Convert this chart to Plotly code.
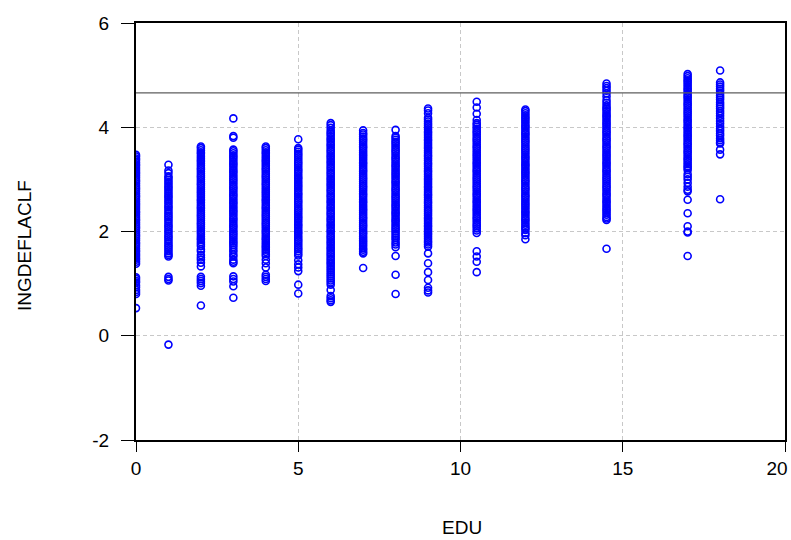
import plotly.graph_objects as go

# Education levels (x positions of the columns)
edu_levels = [0, 1, 2, 3, 4, 5, 6, 7, 8, 9, 10.5, 12, 14.5, 17, 18]

# INGDEFLACLF values read per education level (dense parts read as closely packed observations)
vals_0 = [3.47, 3.44, 3.40, 3.37, 3.33, 3.29, 3.26, 3.22, 3.18, 3.14, 3.11, 3.07, 3.03, 2.99, 2.96, 2.92,
          2.88, 2.84, 2.81, 2.77, 2.73, 2.69, 2.66, 2.62, 2.58, 2.54, 2.51, 2.47, 2.43, 2.39, 2.36, 2.32,
          2.28, 2.24, 2.21, 2.17, 2.13, 2.09, 2.06, 2.02, 1.98, 1.94, 1.91, 1.87, 1.83, 1.79, 1.76, 1.72,
          1.68, 1.64, 1.61, 1.57, 1.53, 1.49, 1.46, 1.42, 1.38, 1.12, 1.09, 1.05, 1.02, 0.97, 0.93, 0.88,
          0.84, 0.80, 0.53]
vals_1 = [3.28, 3.17, 3.12, 3.06, 3.03, 2.99, 2.95, 2.91, 2.87, 2.84, 2.80, 2.76, 2.72, 2.68, 2.65, 2.61,
          2.57, 2.53, 2.49, 2.46, 2.42, 2.38, 2.34, 2.30, 2.27, 2.23, 2.19, 2.15, 2.11, 2.08, 2.04, 2.00,
          1.96, 1.92, 1.89, 1.85, 1.81, 1.77, 1.73, 1.70, 1.66, 1.62, 1.58, 1.55, 1.52, 1.13, 1.09, 1.06,
          -0.17]
vals_2 = [3.63, 3.60, 3.56, 3.52, 3.49, 3.45, 3.41, 3.37, 3.34, 3.30, 3.26, 3.22, 3.19, 3.15, 3.11, 3.07,
          3.04, 3.00, 2.96, 2.92, 2.89, 2.85, 2.81, 2.77, 2.74, 2.70, 2.66, 2.62, 2.59, 2.55, 2.51, 2.47,
          2.44, 2.40, 2.36, 2.32, 2.29, 2.25, 2.21, 2.17, 2.14, 2.10, 2.06, 2.02, 1.99, 1.95, 1.91, 1.87,
          1.84, 1.80, 1.76, 1.72, 1.66, 1.62, 1.55, 1.50, 1.46, 1.40, 1.33, 1.13, 1.09, 1.05, 1.01, 0.96,
          0.58]
vals_3 = [4.17, 3.83, 3.80, 3.57, 3.54, 3.50, 3.46, 3.43, 3.39, 3.35, 3.31, 3.28, 3.24, 3.20, 3.16, 3.13,
          3.09, 3.05, 3.01, 2.98, 2.94, 2.90, 2.86, 2.83, 2.79, 2.75, 2.71, 2.68, 2.64, 2.60, 2.56, 2.53,
          2.49, 2.45, 2.41, 2.38, 2.34, 2.30, 2.26, 2.23, 2.19, 2.15, 2.11, 2.08, 2.04, 2.00, 1.96, 1.93,
          1.89, 1.85, 1.81, 1.78, 1.74, 1.70, 1.65, 1.61, 1.56, 1.52, 1.46, 1.42, 1.39, 1.14, 1.09, 1.04,
          0.95, 0.73]
vals_4 = [3.63, 3.60, 3.56, 3.52, 3.49, 3.45, 3.41, 3.37, 3.34, 3.30, 3.26, 3.22, 3.19, 3.15, 3.11, 3.07,
          3.04, 3.00, 2.96, 2.92, 2.89, 2.85, 2.81, 2.77, 2.74, 2.70, 2.66, 2.62, 2.59, 2.55, 2.51, 2.47,
          2.44, 2.40, 2.36, 2.32, 2.29, 2.25, 2.21, 2.17, 2.14, 2.10, 2.06, 2.02, 1.99, 1.95, 1.91, 1.87,
          1.84, 1.80, 1.76, 1.72, 1.69, 1.65, 1.61, 1.57, 1.53, 1.46, 1.39, 1.31, 1.17, 1.13, 1.09, 1.05]
vals_5 = [3.77, 3.60, 3.57, 3.53, 3.49, 3.46, 3.42, 3.38, 3.34, 3.31, 3.27, 3.23, 3.19, 3.16, 3.12, 3.08,
          3.04, 3.01, 2.97, 2.93, 2.89, 2.86, 2.82, 2.78, 2.74, 2.71, 2.67, 2.63, 2.59, 2.56, 2.52, 2.48,
          2.44, 2.41, 2.37, 2.33, 2.29, 2.26, 2.22, 2.18, 2.14, 2.11, 2.07, 2.03, 1.99, 1.96, 1.92, 1.88,
          1.84, 1.81, 1.77, 1.73, 1.69, 1.66, 1.62, 1.58, 1.54, 1.45, 1.37, 1.31, 1.24, 0.98, 0.81]
vals_6 = [4.08, 4.04, 3.99, 3.94, 3.90, 3.87, 3.83, 3.79, 3.76, 3.72, 3.68, 3.65, 3.61, 3.57, 3.54, 3.50,
          3.46, 3.43, 3.39, 3.35, 3.32, 3.28, 3.24, 3.21, 3.17, 3.13, 3.10, 3.06, 3.02, 2.99, 2.95, 2.91,
          2.88, 2.84, 2.80, 2.77, 2.73, 2.69, 2.66, 2.62, 2.58, 2.55, 2.51, 2.47, 2.44, 2.40, 2.36, 2.33,
          2.29, 2.25, 2.22, 2.18, 2.14, 2.11, 2.07, 2.03, 2.00, 1.96, 1.92, 1.89, 1.85, 1.81, 1.78, 1.74,
          1.70, 1.67, 1.63, 1.59, 1.56, 1.52, 1.48, 1.45, 1.41, 1.38, 1.34, 1.30, 1.26, 1.22, 1.18, 1.14,
          1.10, 1.06, 1.02, 0.98, 0.88, 0.76, 0.72, 0.68, 0.65]
vals_7 = [3.94, 3.89, 3.86, 3.82, 3.78, 3.75, 3.71, 3.67, 3.63, 3.60, 3.56, 3.52, 3.48, 3.45, 3.41, 3.37,
          3.33, 3.30, 3.26, 3.22, 3.18, 3.15, 3.11, 3.07, 3.03, 3.00, 2.96, 2.92, 2.88, 2.85, 2.81, 2.77,
          2.73, 2.70, 2.66, 2.62, 2.58, 2.55, 2.51, 2.47, 2.43, 2.40, 2.36, 2.32, 2.28, 2.25, 2.21, 2.17,
          2.13, 2.10, 2.06, 2.02, 1.98, 1.95, 1.91, 1.87, 1.83, 1.80, 1.76, 1.72, 1.68, 1.65, 1.61, 1.58,
          1.30]
vals_8 = [3.95, 3.83, 3.80, 3.76, 3.72, 3.69, 3.65, 3.61, 3.57, 3.54, 3.50, 3.46, 3.42, 3.39, 3.35, 3.31,
          3.27, 3.24, 3.20, 3.16, 3.12, 3.09, 3.05, 3.01, 2.97, 2.94, 2.90, 2.86, 2.82, 2.79, 2.75, 2.71,
          2.67, 2.64, 2.60, 2.56, 2.52, 2.49, 2.45, 2.41, 2.37, 2.34, 2.30, 2.26, 2.22, 2.19, 2.15, 2.11,
          2.07, 2.04, 2.00, 1.96, 1.92, 1.88, 1.84, 1.79, 1.75, 1.70, 1.53, 1.17, 0.80]
vals_9 = [4.36, 4.32, 4.27, 4.18, 4.15, 4.11, 4.07, 4.04, 4.00, 3.96, 3.92, 3.89, 3.85, 3.81, 3.77, 3.74,
          3.70, 3.66, 3.62, 3.59, 3.55, 3.51, 3.47, 3.44, 3.40, 3.36, 3.32, 3.29, 3.25, 3.21, 3.17, 3.14,
          3.10, 3.06, 3.02, 2.99, 2.95, 2.91, 2.87, 2.84, 2.80, 2.76, 2.72, 2.69, 2.65, 2.61, 2.57, 2.54,
          2.50, 2.46, 2.42, 2.39, 2.35, 2.31, 2.27, 2.24, 2.20, 2.16, 2.12, 2.09, 2.05, 2.01, 1.97, 1.94,
          1.90, 1.86, 1.82, 1.79, 1.75, 1.71, 1.58, 1.39, 1.22, 1.07, 0.92, 0.87, 0.83]
vals_10_5 = [4.49, 4.38, 4.26, 4.14, 4.08, 4.05, 4.01, 3.97, 3.93, 3.90, 3.86, 3.82, 3.78, 3.75, 3.71, 3.67,
             3.63, 3.60, 3.56, 3.52, 3.48, 3.45, 3.41, 3.37, 3.33, 3.30, 3.26, 3.22, 3.18, 3.15, 3.11, 3.07,
             3.03, 3.00, 2.96, 2.92, 2.88, 2.85, 2.81, 2.77, 2.73, 2.70, 2.66, 2.62, 2.58, 2.55, 2.51, 2.47,
             2.43, 2.40, 2.36, 2.32, 2.28, 2.25, 2.21, 2.17, 2.13, 2.10, 2.06, 2.02, 1.97, 1.62, 1.52, 1.42,
             1.22]
vals_12 = [4.34, 4.31, 4.27, 4.23, 4.19, 4.16, 4.12, 4.08, 4.04, 4.01, 3.97, 3.93, 3.89, 3.86, 3.82, 3.78,
           3.74, 3.71, 3.67, 3.63, 3.59, 3.56, 3.52, 3.48, 3.44, 3.41, 3.37, 3.33, 3.29, 3.26, 3.22, 3.18,
           3.14, 3.11, 3.07, 3.03, 2.99, 2.96, 2.92, 2.88, 2.84, 2.81, 2.77, 2.73, 2.69, 2.66, 2.62, 2.58,
           2.54, 2.51, 2.47, 2.43, 2.39, 2.36, 2.32, 2.28, 2.24, 2.21, 2.17, 2.13, 2.09, 2.06, 2.03, 1.97,
           1.93, 1.85]
vals_14_5 = [4.84, 4.79, 4.75, 4.70, 4.65, 4.59, 4.52, 4.47, 4.42, 4.38, 4.35, 4.31, 4.27, 4.23, 4.20, 4.16,
             4.12, 4.08, 4.05, 4.01, 3.97, 3.93, 3.90, 3.86, 3.82, 3.78, 3.75, 3.71, 3.67, 3.63, 3.60, 3.56,
             3.52, 3.48, 3.45, 3.41, 3.37, 3.33, 3.30, 3.26, 3.22, 3.18, 3.15, 3.11, 3.07, 3.03, 3.00, 2.96,
             2.92, 2.88, 2.85, 2.81, 2.77, 2.73, 2.70, 2.66, 2.62, 2.58, 2.55, 2.51, 2.47, 2.43, 2.40, 2.36,
             2.32, 2.28, 2.25, 2.22, 1.67]
vals_17 = [5.02, 4.98, 4.94, 4.90, 4.87, 4.83, 4.79, 4.75, 4.72, 4.68, 4.64, 4.60, 4.57, 4.53, 4.49, 4.45,
           4.42, 4.38, 4.34, 4.30, 4.27, 4.23, 4.19, 4.15, 4.12, 4.08, 4.04, 4.00, 3.97, 3.93, 3.89, 3.85,
           3.82, 3.78, 3.74, 3.70, 3.67, 3.63, 3.59, 3.55, 3.52, 3.48, 3.44, 3.40, 3.37, 3.33, 3.29, 3.25,
           3.22, 3.18, 3.10, 3.05, 3.00, 2.93, 2.86, 2.80, 2.77, 2.61, 2.35, 2.10, 2.00, 1.98, 1.53]
vals_18 = [5.09, 4.86, 4.82, 4.78, 4.74, 4.70, 4.65, 4.61, 4.57, 4.53, 4.48, 4.44, 4.40, 4.36, 4.31, 4.27,
           4.22, 4.17, 4.12, 4.07, 4.02, 3.97, 3.93, 3.88, 3.84, 3.79, 3.75, 3.71, 3.69, 3.57, 3.48, 2.62]

column_values = [vals_0, vals_1, vals_2, vals_3, vals_4, vals_5, vals_6, vals_7, vals_8, vals_9,
                 vals_10_5, vals_12, vals_14_5, vals_17, vals_18]

# Horizontal reference line value
hline_value = [4.66]

# Axis ticks
x_ticks = [0, 5, 10, 15, 20]
x_tick_labels = ["0", "5", "10", "15", "20"]
y_ticks = [-2, 0, 2, 4, 6]
y_tick_labels = ["-2", "0", "2", "4", "6"]

x_all, y_all = [], []
for lvl, vals in zip(edu_levels, column_values):
    x_all.extend([lvl] * len(vals))
    y_all.extend(vals)

fig = go.Figure()
fig.add_trace(go.Scatter(
    x=x_all, y=y_all, mode="markers",
    marker=dict(symbol="circle-open", size=7, color="#0000FF", line=dict(width=1.6, color="#0000FF")),
    showlegend=False,
))

fig.add_hline(y=hline_value[0], line=dict(color="#5E5E5E", width=1.4))

font_family = "Arial, Liberation Sans, sans-serif"

# the last x label sits inside the window edge (as in the original): pad it on the right
x_ticktext = x_tick_labels[:-1] + [x_tick_labels[-1] + "\u00a0\u00a0\u00a0"]

fig.update_layout(
    width=791, height=540,
    margin=dict(l=136, r=6, t=23, b=100, autoexpand=False),
    paper_bgcolor="white", plot_bgcolor="white",
    font=dict(family=font_family, size=19, color="black"),
    xaxis=dict(
        range=[0, 20], tickvals=x_ticks, ticktext=x_ticktext,
        showgrid=True, gridcolor="#C8C8C8", griddash="4px,3px", gridwidth=1,
        showline=True, linecolor="black", linewidth=2, mirror=True,
        ticks="outside", ticklen=10, tickcolor="black", tickwidth=1,
        zeroline=False, tickfont=dict(size=19), ticklabeloverflow="allow", automargin=False,
    ),
    yaxis=dict(
        range=[-2, 6], tickvals=y_ticks, ticktext=y_tick_labels,
        showgrid=True, gridcolor="#C8C8C8", griddash="4px,3px", gridwidth=1,
        showline=True, linecolor="black", linewidth=2, mirror=True,
        ticks="outside", ticklen=13, tickcolor="black", tickwidth=1,
        zeroline=False, tickfont=dict(size=19), ticklabelstandoff=8, automargin=False,
    ),
    annotations=[
        dict(text="INGDEFLACLF", xref="paper", yref="paper", x=(24 - 136) / 649, y=(440 - 246) / 417,
             xanchor="center", yanchor="middle", textangle=-90, showarrow=False,
             font=dict(size=19, family=font_family)),
        dict(text="EDU", xref="paper", yref="paper", x=(462 - 136) / 649, y=(440 - 527) / 417,
             xanchor="center", yanchor="middle", showarrow=False,
             font=dict(size=19, family=font_family)),
    ],
)

# remove the browser's default page margin so the figure sits at the window's top-left corner
fig.write_html("out.html",
               config={"displayModeBar": False},
               post_script="document.body.style.margin='0';document.body.style.overflow='hidden';")
